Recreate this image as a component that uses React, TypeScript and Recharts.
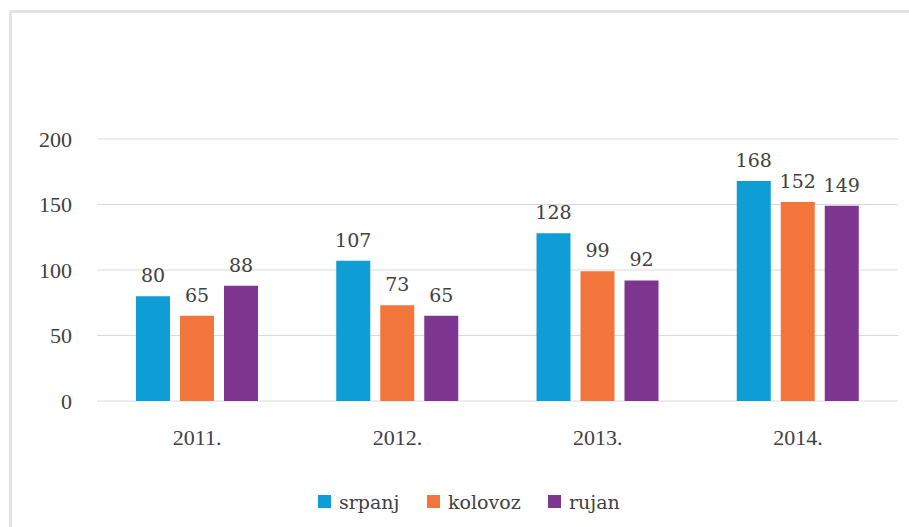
import React from 'react';
import { BarChart, Bar, XAxis, YAxis, CartesianGrid, Legend, LabelList } from 'recharts';

const years = ['2011.', '2012.', '2013.', '2014.'];
const srpanj = [80, 107, 128, 168];
const kolovoz = [65, 73, 99, 152];
const rujan = [88, 65, 92, 149];
const yTicks = [0, 50, 100, 150, 200];
const seriesNames = ['srpanj', 'kolovoz', 'rujan'];
const seriesColors = ['#0E9DD5', '#F2763C', '#7E3690'];

const data = years.map((y, i) => ({ year: y, srpanj: srpanj[i], kolovoz: kolovoz[i], rujan: rujan[i] }));

const FONT = 'Liberation Serif';
const LABEL_FONT = '"DejaVu Serif", serif';
const TEXT = '#404040';

const renderLabel = (props: any) => {
  const { x, y, width, value } = props;
  return (
    <text
      x={Number(x) + Number(width) / 2}
      y={Number(y) - 14}
      textAnchor="middle"
      style={{ fontFamily: LABEL_FONT, fontSize: 19, fill: TEXT }}
    >
      {value}
    </text>
  );
};

const legendIconX = [318, 427, 548];

const renderLegend = () => (
  <svg width={909} height={34} style={{ display: 'block' }}>
    {seriesNames.map((name, i) => (
      <g key={name}>
        <rect x={legendIconX[i]} y={8} width={13} height={13} fill={seriesColors[i]} />
        <text x={legendIconX[i] + 21} y={22} style={{ fontFamily: LABEL_FONT, fontSize: 19, fill: TEXT }}>
          {name}
        </text>
      </g>
    ))}
  </svg>
);

export default function App() {
  return (
    <div style={{ position: 'absolute', left: 0, top: 0, width: 909, height: 527, overflow: 'hidden', background: '#fff' }}>
      <div style={{ position: 'absolute', left: 9, top: 10, width: 1000, height: 700, border: '3px solid #e3e3e3', boxSizing: 'border-box' }} />
      <div style={{ position: 'absolute', left: 0, top: 0 }}>
        <BarChart
          width={909}
          height={527}
          data={data}
          margin={{ top: 139, right: 11, left: 0, bottom: 96 }}
          barSize={34}
          barGap={10}
        >
          <CartesianGrid vertical={false} stroke="#d9d9d9" strokeWidth={1} />
          <XAxis
            dataKey="year"
            height={30}
            axisLine={false}
            tickLine={false}
            tickMargin={22}
            tick={{ fontSize: 22, fill: TEXT, fontFamily: FONT }}
          />
          <YAxis
            width={97}
            domain={[0, 200]}
            ticks={yTicks}
            axisLine={false}
            tickLine={false}
            tickMargin={19}
            tick={{ fontSize: 22, fill: TEXT, fontFamily: FONT }}
          />
          <Legend
            verticalAlign="middle"
            align="center"
            layout="horizontal"
            wrapperStyle={{ top: 487, left: 0, width: 909 }}
            content={renderLegend}
          />
          <Bar dataKey="srpanj" name="srpanj" fill={seriesColors[0]} isAnimationActive={false}>
            <LabelList dataKey="srpanj" content={renderLabel} />
          </Bar>
          <Bar dataKey="kolovoz" name="kolovoz" fill={seriesColors[1]} isAnimationActive={false}>
            <LabelList dataKey="kolovoz" content={renderLabel} />
          </Bar>
          <Bar dataKey="rujan" name="rujan" fill={seriesColors[2]} isAnimationActive={false}>
            <LabelList dataKey="rujan" content={renderLabel} />
          </Bar>
        </BarChart>
      </div>
    </div>
  );
}
